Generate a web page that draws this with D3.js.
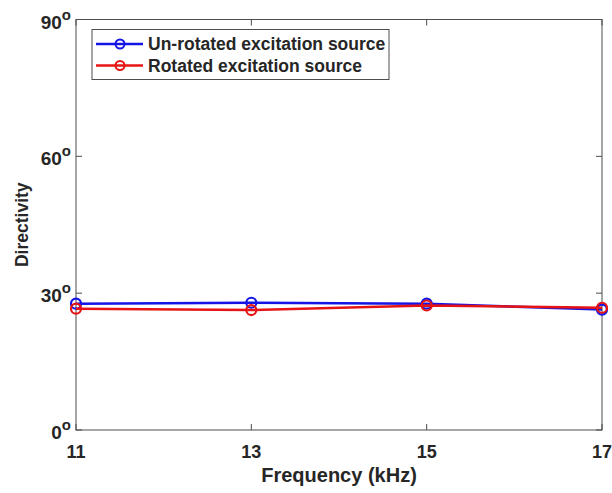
<!DOCTYPE html>
<html>
<head>
<meta charset="utf-8">
<script src="https://cdn.jsdelivr.net/npm/d3@7"></script>
<style>
  body { margin: 0; background: white; }
  text { font-family: "Liberation Sans", Arial, sans-serif; font-weight: bold; fill: #262626; }
</style>
</head>
<body>
<svg width="612" height="493"></svg>
<script>
const frequencies = [11, 13, 15, 17];
const unrotated = [27.7, 27.9, 27.7, 26.4];
const rotated = [26.6, 26.3, 27.3, 26.8];
const yTicks = [0, 30, 60, 90];
const seriesNames = ["Un-rotated excitation source", "Rotated excitation source"];
const seriesColors = ["#1414e6", "#e61414"];

const margin = {top: 19.5, right: 10, bottom: 63, left: 76},
    width = 612 - margin.left - margin.right,
    height = 493 - margin.top - margin.bottom;

const svg = d3.select("svg")
    .append("g")
    .attr("transform", `translate(${margin.left},${margin.top})`);

const x = d3.scaleLinear().domain([11, 17]).range([0, width]);
const y = d3.scaleLinear().domain([0, 90]).range([height, 0]);

// box
svg.append("rect")
    .attr("width", width).attr("height", height)
    .attr("fill", "none").attr("stroke", "#4d4d4d").attr("stroke-width", 1);

// ticks inside on all four sides
const tickLen = 6;
frequencies.forEach(f => {
    svg.append("line").attr("x1", x(f)).attr("x2", x(f)).attr("y1", height).attr("y2", height - tickLen)
        .attr("stroke", "#4d4d4d");
    svg.append("line").attr("x1", x(f)).attr("x2", x(f)).attr("y1", 0).attr("y2", tickLen)
        .attr("stroke", "#4d4d4d");
    svg.append("text")
        .attr("x", x(f)).attr("y", height + 28)
        .attr("text-anchor", "middle")
        .style("font-size", "18px")
        .text(f);
});

yTicks.forEach(t => {
    svg.append("line").attr("x1", 0).attr("x2", tickLen).attr("y1", y(t)).attr("y2", y(t))
        .attr("stroke", "#4d4d4d");
    svg.append("line").attr("x1", width).attr("x2", width - tickLen).attr("y1", y(t)).attr("y2", y(t))
        .attr("stroke", "#4d4d4d");
    const lbl = svg.append("text")
        .attr("x", -5).attr("y", y(t) + 9)
        .attr("text-anchor", "end")
        .style("font-size", "19px");
    lbl.append("tspan").text(t);
    lbl.append("tspan").attr("dy", -9).style("font-size", "15px").text("o");
});

// axis titles
svg.append("text")
    .attr("x", width / 2).attr("y", height + 52)
    .attr("text-anchor", "middle")
    .style("font-size", "20px")
    .text("Frequency (kHz)");

svg.append("text")
    .attr("transform", `translate(${-48},${height / 2}) rotate(-90)`)
    .attr("text-anchor", "middle")
    .style("font-size", "17.5px")
    .text("Directivity");

// series
const line = d3.line().x((d, i) => x(frequencies[i])).y(d => y(d));
[unrotated, rotated].forEach((vals, k) => {
    svg.append("path")
        .datum(vals)
        .attr("fill", "none")
        .attr("stroke", seriesColors[k])
        .attr("stroke-width", 2.5)
        .attr("d", line);
    svg.selectAll(null)
        .data(vals)
        .join("circle")
        .attr("cx", (d, i) => x(frequencies[i]))
        .attr("cy", d => y(d))
        .attr("r", 5)
        .attr("fill", "none")
        .attr("stroke", seriesColors[k])
        .attr("stroke-width", 2.2);
});

// legend
const legend = svg.append("g").attr("transform", "translate(16,10)");
legend.append("rect")
    .attr("width", 297).attr("height", 50)
    .attr("fill", "white").attr("stroke", "#4d4d4d").attr("stroke-width", 1);
seriesNames.forEach((name, i) => {
    const row = legend.append("g").attr("transform", `translate(0,${14.5 + i * 21.5})`);
    row.append("line").attr("x1", 4).attr("x2", 51).attr("stroke", seriesColors[i]).attr("stroke-width", 2.5);
    row.append("circle").attr("cx", 28).attr("r", 4.5)
        .attr("fill", "none").attr("stroke", seriesColors[i]).attr("stroke-width", 2);
    row.append("text").attr("x", 56).attr("y", 6)
        .style("font-size", "17.5px")
        .text(name);
});
</script>
</body>
</html>
